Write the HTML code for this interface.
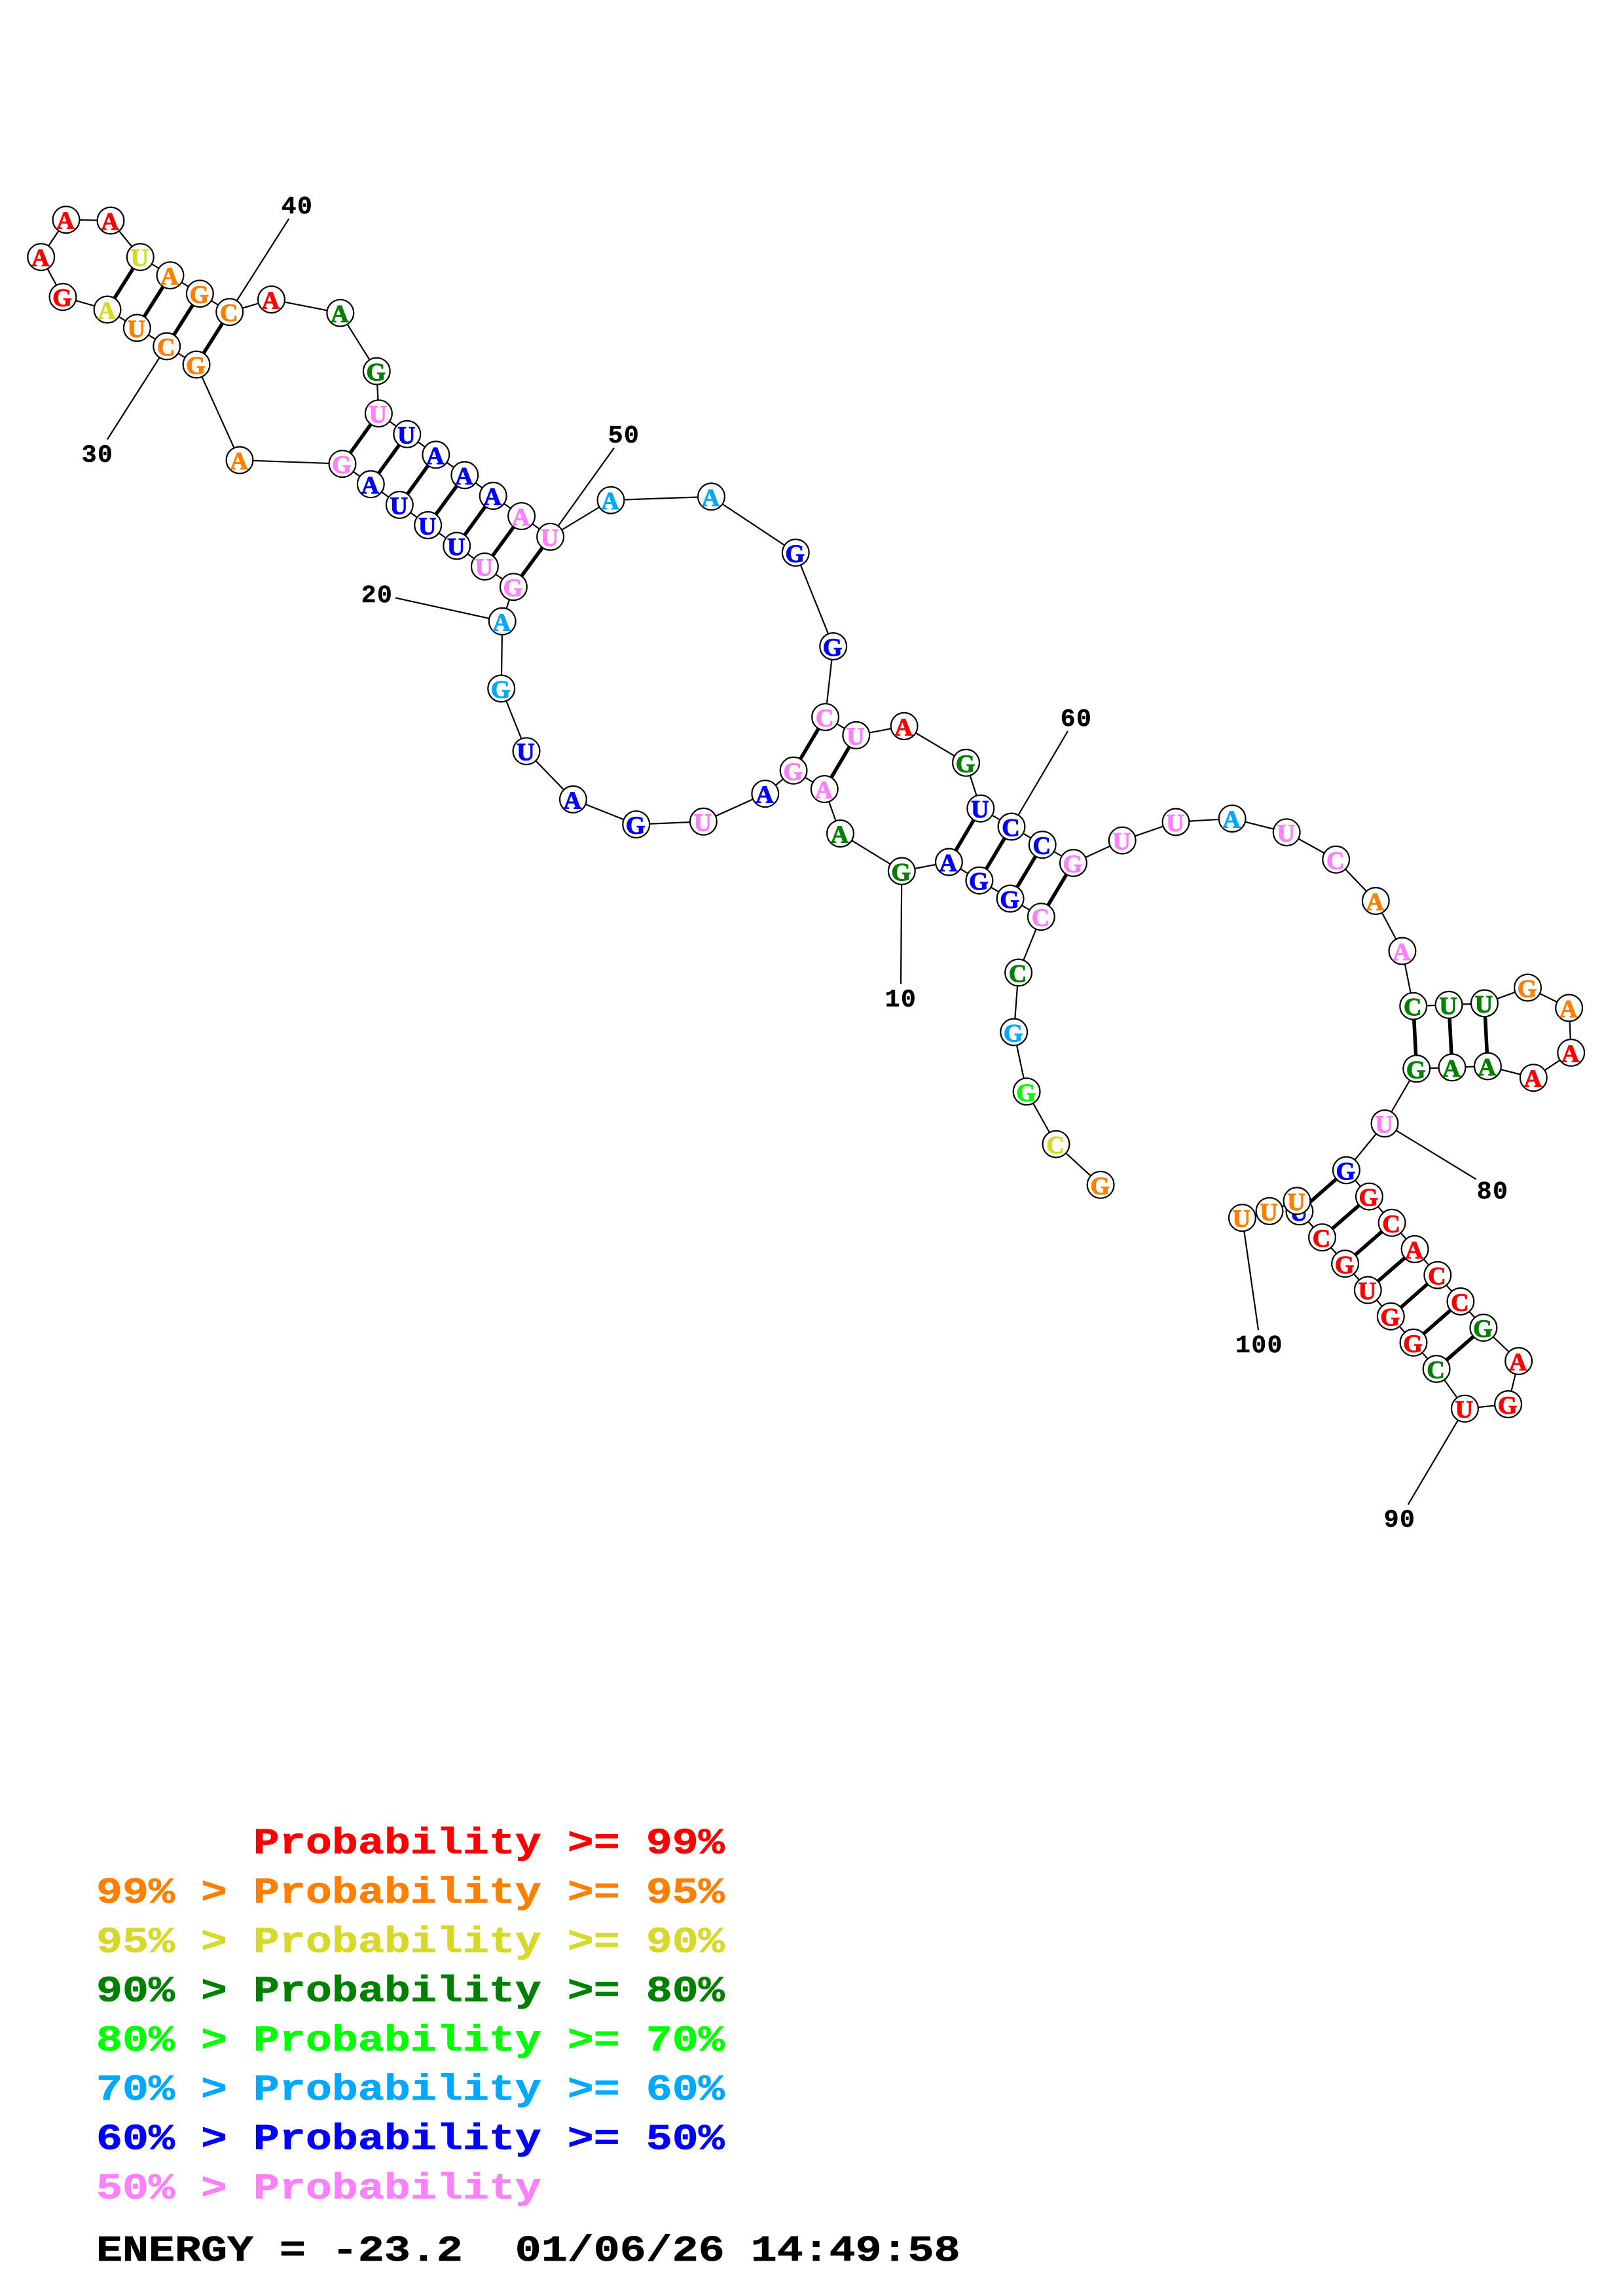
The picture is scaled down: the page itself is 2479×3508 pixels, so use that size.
<!DOCTYPE html>
<html><head><meta charset="utf-8"><style>
html,body{margin:0;padding:0;background:#fff}
svg{display:block}
circle{fill:#fff;stroke:#000;stroke-width:2.2}
.n{font:bold 38px "Liberation Serif",serif;text-anchor:middle;stroke-width:1.1}
.t{font:bold 38px "Liberation Mono",monospace;text-anchor:middle;letter-spacing:1.5px;fill:#000;stroke:#000;stroke-width:.5}
.L{font:bold 56px "Liberation Mono",monospace;white-space:pre;stroke-width:.7}
.r{fill:#f00;stroke:#f00}.o{fill:#ff8000;stroke:#ff8000}.y{fill:#d8d82a;stroke:#d8d82a}.g{fill:#008000;stroke:#008000}.l{fill:#0f0;stroke:#0f0}.s{fill:#00a8ff;stroke:#00a8ff}.b{fill:#00f;stroke:#00f}.p{fill:#ff80ff;stroke:#ff80ff}.k{fill:#000;stroke:#000}
</style></head><body>
<svg xmlns="http://www.w3.org/2000/svg" width="2479" height="3508" viewBox="0 0 2479 3508">
<rect width="2479" height="3508" fill="#fff"/>
<polyline fill="none" stroke="#000" stroke-width="2.2" points="1681.1,1810.3 1613,1748.1 1568.1,1667.8 1548.7,1576.9 1555.6,1486 1590.3,1400.7 1543.1,1373 1495.9,1345.2 1449.4,1317 1377.3,1330.9 1283.5,1273.5 1259.3,1205.6 1212.1,1177.3 1168.8,1212.7 1074.4,1255.3 971.7,1259.6 875.4,1221.4 804,1147.7 765.7,1052 767.2,949.3 784.4,896.7 740.4,865.6 697.7,834 653.7,802.4 610.3,771.4 566.3,739.8 523,708.7 366,703 300,557 254.7,529 209.3,501 164,473 96,453.7 62.7,392.7 101,335.7 169,337 214.3,392.7 260,420.7 305.3,448.7 350.7,476.7 414.5,457.6 519.8,478.2 575.3,567.1 578.4,631.7 621.8,663.3 665.8,694.8 709.8,725.9 753.2,757.5 796.6,788.6 840.6,820.2 933,764.2 1086.5,758.8 1215.3,844.4 1272.7,987.5 1260.6,1095.6 1307.8,1123.3 1381.1,1109.4 1475.5,1165.4 1497.8,1235.2 1545,1263 1592.2,1290.7 1639.4,1318.5 1714.2,1284.1 1796,1255.9 1882.1,1250.7 1965.2,1271.7 2040.7,1313.3 2101.3,1376.5 2141.9,1453 2158.7,1537.2 2213,1535.3 2267.4,1532.9 2333.5,1509 2396.6,1540 2399.7,1608.4 2342.3,1646.7 2272.4,1629 2218,1630.9 2163.7,1632.8 2115,1716.5 2056.4,1787.9 2091.4,1828.1 2126.1,1868.3 2161.1,1908.5 2195.8,1948.2 2230.9,1988.4 2265.9,2028.6 2319.6,2079.5 2303.6,2145.5 2237.4,2152.2 2194.1,2091.5 2159,2051.3 2124.3,2011.2 2089.3,1971 2054.6,1930.8 2019.5,1890.6 1984.9,1850.9 1981,1834.8 1939,1850.4 1897.4,1860.7"/>
<g stroke="#000" stroke-width="2.2" fill="none">
<path d="M254.7,529L163.9,671.4M350.7,476.7L441.3,334.2M767.2,949.3L604,913.4M840.6,820.2L938,684.3M1545,1263L1631,1117M1377.3,1330.9L1376,1503.3M2115,1716.5L2254.7,1801.8M2237.4,2152.2L2150.8,2298.7M1897.4,1860.7L1922,2032"/>
</g>
<g stroke="#000" stroke-width="5.5" fill="none">
<path d="M784.4,896.7L840.6,820.2M740.4,865.6L796.6,788.6M697.7,834L753.2,757.5M653.7,802.4L709.8,725.9M610.3,771.4L665.8,694.8M566.3,739.8L621.8,663.3M523,708.7L578.4,631.7"/>
<path d="M300,557L350.7,476.7M254.7,529L305.3,448.7M209.3,501L260,420.7M164,473L214.3,392.7"/>
<path d="M1590.3,1400.7L1639.4,1318.5M1543.1,1373L1592.2,1290.7M1495.9,1345.2L1545,1263M1449.4,1317L1497.8,1235.2"/>
<path d="M1259.3,1205.6L1307.8,1123.3M1212.1,1177.3L1260.6,1095.6"/>
<path d="M2158.7,1537.2L2163.7,1632.8M2213,1535.3L2218,1630.9M2267.4,1532.9L2272.4,1629"/>
<path d="M2056.4,1787.9L1984.9,1850.9M2091.4,1828.1L2019.5,1890.6M2126.1,1868.3L2054.6,1930.8M2161.1,1908.5L2089.3,1971M2195.8,1948.2L2124.3,2011.2M2230.9,1988.4L2159,2051.3M2265.9,2028.6L2194.1,2091.5"/>
</g>
<circle cx="1681.1" cy="1810.3" r="20.4"/><text class="n o" x="1680.1" y="1824.3">G</text>
<circle cx="1613" cy="1748.1" r="20.4"/><text class="n y" x="1612" y="1762.1">C</text>
<circle cx="1568.1" cy="1667.8" r="20.4"/><text class="n l" x="1567.1" y="1681.8">G</text>
<circle cx="1548.7" cy="1576.9" r="20.4"/><text class="n s" x="1547.7" y="1590.9">G</text>
<circle cx="1555.6" cy="1486" r="20.4"/><text class="n g" x="1554.6" y="1500">C</text>
<circle cx="1590.3" cy="1400.7" r="20.4"/><text class="n p" x="1589.3" y="1414.7">C</text>
<circle cx="1543.1" cy="1373" r="20.4"/><text class="n b" x="1542.1" y="1387">G</text>
<circle cx="1495.9" cy="1345.2" r="20.4"/><text class="n b" x="1494.9" y="1359.2">G</text>
<circle cx="1449.4" cy="1317" r="20.4"/><text class="n b" x="1448.4" y="1331">A</text>
<circle cx="1377.3" cy="1330.9" r="20.4"/><text class="n g" x="1376.3" y="1344.9">G</text>
<circle cx="1283.5" cy="1273.5" r="20.4"/><text class="n g" x="1282.5" y="1287.5">A</text>
<circle cx="1259.3" cy="1205.6" r="20.4"/><text class="n p" x="1258.3" y="1219.6">A</text>
<circle cx="1212.1" cy="1177.3" r="20.4"/><text class="n p" x="1211.1" y="1191.3">G</text>
<circle cx="1168.8" cy="1212.7" r="20.4"/><text class="n b" x="1167.8" y="1226.7">A</text>
<circle cx="1074.4" cy="1255.3" r="20.4"/><text class="n p" x="1073.4" y="1269.3">U</text>
<circle cx="971.7" cy="1259.6" r="20.4"/><text class="n b" x="970.7" y="1273.6">G</text>
<circle cx="875.4" cy="1221.4" r="20.4"/><text class="n b" x="874.4" y="1235.4">A</text>
<circle cx="804" cy="1147.7" r="20.4"/><text class="n b" x="803" y="1161.7">U</text>
<circle cx="765.7" cy="1052" r="20.4"/><text class="n s" x="764.7" y="1066">G</text>
<circle cx="767.2" cy="949.3" r="20.4"/><text class="n s" x="766.2" y="963.3">A</text>
<circle cx="784.4" cy="896.7" r="20.4"/><text class="n p" x="783.4" y="910.7">G</text>
<circle cx="740.4" cy="865.6" r="20.4"/><text class="n p" x="739.4" y="879.6">U</text>
<circle cx="697.7" cy="834" r="20.4"/><text class="n b" x="696.7" y="848">U</text>
<circle cx="653.7" cy="802.4" r="20.4"/><text class="n b" x="652.7" y="816.4">U</text>
<circle cx="610.3" cy="771.4" r="20.4"/><text class="n b" x="609.3" y="785.4">U</text>
<circle cx="566.3" cy="739.8" r="20.4"/><text class="n b" x="565.3" y="753.8">A</text>
<circle cx="523" cy="708.7" r="20.4"/><text class="n p" x="522" y="722.7">G</text>
<circle cx="366" cy="703" r="20.4"/><text class="n o" x="365" y="717">A</text>
<circle cx="300" cy="557" r="20.4"/><text class="n o" x="299" y="571">G</text>
<circle cx="254.7" cy="529" r="20.4"/><text class="n o" x="253.7" y="543">C</text>
<circle cx="209.3" cy="501" r="20.4"/><text class="n o" x="208.3" y="515">U</text>
<circle cx="164" cy="473" r="20.4"/><text class="n y" x="163" y="487">A</text>
<circle cx="96" cy="453.7" r="20.4"/><text class="n r" x="95" y="467.7">G</text>
<circle cx="62.7" cy="392.7" r="20.4"/><text class="n r" x="61.7" y="406.7">A</text>
<circle cx="101" cy="335.7" r="20.4"/><text class="n r" x="100" y="349.7">A</text>
<circle cx="169" cy="337" r="20.4"/><text class="n r" x="168" y="351">A</text>
<circle cx="214.3" cy="392.7" r="20.4"/><text class="n y" x="213.3" y="406.7">U</text>
<circle cx="260" cy="420.7" r="20.4"/><text class="n o" x="259" y="434.7">A</text>
<circle cx="305.3" cy="448.7" r="20.4"/><text class="n o" x="304.3" y="462.7">G</text>
<circle cx="350.7" cy="476.7" r="20.4"/><text class="n o" x="349.7" y="490.7">C</text>
<circle cx="414.5" cy="457.6" r="20.4"/><text class="n r" x="413.5" y="471.6">A</text>
<circle cx="519.8" cy="478.2" r="20.4"/><text class="n g" x="518.8" y="492.2">A</text>
<circle cx="575.3" cy="567.1" r="20.4"/><text class="n g" x="574.3" y="581.1">G</text>
<circle cx="578.4" cy="631.7" r="20.4"/><text class="n p" x="577.4" y="645.7">U</text>
<circle cx="621.8" cy="663.3" r="20.4"/><text class="n b" x="620.8" y="677.3">U</text>
<circle cx="665.8" cy="694.8" r="20.4"/><text class="n b" x="664.8" y="708.8">A</text>
<circle cx="709.8" cy="725.9" r="20.4"/><text class="n b" x="708.8" y="739.9">A</text>
<circle cx="753.2" cy="757.5" r="20.4"/><text class="n b" x="752.2" y="771.5">A</text>
<circle cx="796.6" cy="788.6" r="20.4"/><text class="n p" x="795.6" y="802.6">A</text>
<circle cx="840.6" cy="820.2" r="20.4"/><text class="n p" x="839.6" y="834.2">U</text>
<circle cx="933" cy="764.2" r="20.4"/><text class="n s" x="932" y="778.2">A</text>
<circle cx="1086.5" cy="758.8" r="20.4"/><text class="n s" x="1085.5" y="772.8">A</text>
<circle cx="1215.3" cy="844.4" r="20.4"/><text class="n b" x="1214.3" y="858.4">G</text>
<circle cx="1272.7" cy="987.5" r="20.4"/><text class="n b" x="1271.7" y="1001.5">G</text>
<circle cx="1260.6" cy="1095.6" r="20.4"/><text class="n p" x="1259.6" y="1109.6">C</text>
<circle cx="1307.8" cy="1123.3" r="20.4"/><text class="n p" x="1306.8" y="1137.3">U</text>
<circle cx="1381.1" cy="1109.4" r="20.4"/><text class="n r" x="1380.1" y="1123.4">A</text>
<circle cx="1475.5" cy="1165.4" r="20.4"/><text class="n g" x="1474.5" y="1179.4">G</text>
<circle cx="1497.8" cy="1235.2" r="20.4"/><text class="n b" x="1496.8" y="1249.2">U</text>
<circle cx="1545" cy="1263" r="20.4"/><text class="n b" x="1544" y="1277">C</text>
<circle cx="1592.2" cy="1290.7" r="20.4"/><text class="n b" x="1591.2" y="1304.7">C</text>
<circle cx="1639.4" cy="1318.5" r="20.4"/><text class="n p" x="1638.4" y="1332.5">G</text>
<circle cx="1714.2" cy="1284.1" r="20.4"/><text class="n p" x="1713.2" y="1298.1">U</text>
<circle cx="1796" cy="1255.9" r="20.4"/><text class="n p" x="1795" y="1269.9">U</text>
<circle cx="1882.1" cy="1250.7" r="20.4"/><text class="n s" x="1881.1" y="1264.7">A</text>
<circle cx="1965.2" cy="1271.7" r="20.4"/><text class="n p" x="1964.2" y="1285.7">U</text>
<circle cx="2040.7" cy="1313.3" r="20.4"/><text class="n p" x="2039.7" y="1327.3">C</text>
<circle cx="2101.3" cy="1376.5" r="20.4"/><text class="n o" x="2100.3" y="1390.5">A</text>
<circle cx="2141.9" cy="1453" r="20.4"/><text class="n p" x="2140.9" y="1467">A</text>
<circle cx="2158.7" cy="1537.2" r="20.4"/><text class="n g" x="2157.7" y="1551.2">C</text>
<circle cx="2213" cy="1535.3" r="20.4"/><text class="n g" x="2212" y="1549.3">U</text>
<circle cx="2267.4" cy="1532.9" r="20.4"/><text class="n g" x="2266.4" y="1546.9">U</text>
<circle cx="2333.5" cy="1509" r="20.4"/><text class="n o" x="2332.5" y="1523">G</text>
<circle cx="2396.6" cy="1540" r="20.4"/><text class="n o" x="2395.6" y="1554">A</text>
<circle cx="2399.7" cy="1608.4" r="20.4"/><text class="n r" x="2398.7" y="1622.4">A</text>
<circle cx="2342.3" cy="1646.7" r="20.4"/><text class="n r" x="2341.3" y="1660.7">A</text>
<circle cx="2272.4" cy="1629" r="20.4"/><text class="n g" x="2271.4" y="1643">A</text>
<circle cx="2218" cy="1630.9" r="20.4"/><text class="n g" x="2217" y="1644.9">A</text>
<circle cx="2163.7" cy="1632.8" r="20.4"/><text class="n g" x="2162.7" y="1646.8">G</text>
<circle cx="2115" cy="1716.5" r="20.4"/><text class="n p" x="2114" y="1730.5">U</text>
<circle cx="2056.4" cy="1787.9" r="20.4"/><text class="n b" x="2055.4" y="1801.9">G</text>
<circle cx="2091.4" cy="1828.1" r="20.4"/><text class="n r" x="2090.4" y="1842.1">G</text>
<circle cx="2126.1" cy="1868.3" r="20.4"/><text class="n r" x="2125.1" y="1882.3">C</text>
<circle cx="2161.1" cy="1908.5" r="20.4"/><text class="n r" x="2160.1" y="1922.5">A</text>
<circle cx="2195.8" cy="1948.2" r="20.4"/><text class="n r" x="2194.8" y="1962.2">C</text>
<circle cx="2230.9" cy="1988.4" r="20.4"/><text class="n r" x="2229.9" y="2002.4">C</text>
<circle cx="2265.9" cy="2028.6" r="20.4"/><text class="n g" x="2264.9" y="2042.6">G</text>
<circle cx="2319.6" cy="2079.5" r="20.4"/><text class="n r" x="2318.6" y="2093.5">A</text>
<circle cx="2303.6" cy="2145.5" r="20.4"/><text class="n r" x="2302.6" y="2159.5">G</text>
<circle cx="2237.4" cy="2152.2" r="20.4"/><text class="n r" x="2236.4" y="2166.2">U</text>
<circle cx="2194.1" cy="2091.5" r="20.4"/><text class="n g" x="2193.1" y="2105.5">C</text>
<circle cx="2159" cy="2051.3" r="20.4"/><text class="n r" x="2158" y="2065.3">G</text>
<circle cx="2124.3" cy="2011.2" r="20.4"/><text class="n r" x="2123.3" y="2025.2">G</text>
<circle cx="2089.3" cy="1971" r="20.4"/><text class="n r" x="2088.3" y="1985">U</text>
<circle cx="2054.6" cy="1930.8" r="20.4"/><text class="n r" x="2053.6" y="1944.8">G</text>
<circle cx="2019.5" cy="1890.6" r="20.4"/><text class="n r" x="2018.5" y="1904.6">C</text>
<circle cx="1984.9" cy="1850.9" r="20.4"/><text class="n b" x="1983.9" y="1864.9">U</text>
<circle cx="1981" cy="1834.8" r="20.4"/><text class="n o" x="1980" y="1848.8">U</text>
<circle cx="1939" cy="1850.4" r="20.4"/><text class="n o" x="1938" y="1864.4">U</text>
<circle cx="1897.4" cy="1860.7" r="20.4"/><text class="n o" x="1896.4" y="1874.7">U</text>
<text class="t" x="1376" y="1537.5">10</text>
<text class="t" x="576" y="920">20</text>
<text class="t" x="149" y="705.5">30</text>
<text class="t" x="454" y="326">40</text>
<text class="t" x="953" y="676">50</text>
<text class="t" x="1644" y="1109">60</text>
<text class="t" x="2280" y="1831">80</text>
<text class="t" x="2138" y="2332.5">90</text>
<text class="t" x="1923.5" y="2066">100</text>
<text class="L r" transform="translate(147 2831.7) scale(1.19 1)">      Probability &gt;= 99%</text>
<text class="L o" transform="translate(147 2907) scale(1.19 1)">99% &gt; Probability &gt;= 95%</text>
<text class="L y" transform="translate(147 2982.3) scale(1.19 1)">95% &gt; Probability &gt;= 90%</text>
<text class="L g" transform="translate(147 3057.6) scale(1.19 1)">90% &gt; Probability &gt;= 80%</text>
<text class="L l" transform="translate(147 3132.9) scale(1.19 1)">80% &gt; Probability &gt;= 70%</text>
<text class="L s" transform="translate(147 3208.2) scale(1.19 1)">70% &gt; Probability &gt;= 60%</text>
<text class="L b" transform="translate(147 3283.5) scale(1.19 1)">60% &gt; Probability &gt;= 50%</text>
<text class="L p" transform="translate(147 3358.8) scale(1.19 1)">50% &gt; Probability</text>
<text class="L k" transform="translate(147 3454) scale(1.19 1)">ENERGY = -23.2  01/06/26 14:49:58</text>
</svg>
</body></html>
